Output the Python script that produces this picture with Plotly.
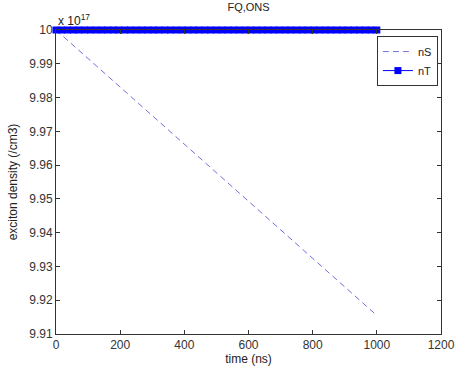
import plotly.graph_objects as go

# nS: linear decay (values in units of 1e17 /cm3)
t_nS = [0, 1000]
nS = [10.0, 9.9155]

# nT: constant at 1e18 (10 x 1e17), sampled densely
t_nT = [0, 18, 36, 54, 71, 89, 107, 125, 143, 161, 179, 196, 214, 232, 250,
        268, 286, 304, 321, 339, 357, 375, 393, 411, 429, 446, 464, 482, 500,
        518, 536, 554, 571, 589, 607, 625, 643, 661, 679, 696, 714, 732, 750,
        768, 786, 804, 821, 839, 857, 875, 893, 911, 929, 946, 964, 982, 1000]
nT = [10.0] * len(t_nT)

y_ticks = [9.91, 9.92, 9.93, 9.94, 9.95, 9.96, 9.97, 9.98, 9.99, 10.0]
y_ticktext = ["9.91", "9.92", "9.93", "9.94", "9.95", "9.96", "9.97", "9.98", "9.99", "10"]
x_ticks = [0, 200, 400, 600, 800, 1000, 1200]

font = "Liberation Sans, Arial, sans-serif"

fig = go.Figure()
fig.add_trace(go.Scatter(x=t_nS, y=nS, mode="lines", name="nS",
                         line=dict(color="#7070dd", width=1, dash="6px,4px")))
fig.add_trace(go.Scatter(x=t_nT, y=nT, mode="lines+markers", name="nT",
                         line=dict(color="#0000ff", width=1),
                         marker=dict(symbol="square", size=7, color="#0000ff",
                                     line=dict(width=0)),
                         cliponaxis=False))

axis_common = dict(showline=True, linecolor="#333333", linewidth=1, mirror="ticks",
                   ticks="inside", ticklen=4, tickcolor="#333333", showgrid=False,
                   zeroline=False, automargin=False,
                   tickfont=dict(family=font, size=12, color="#333333"))

fig.update_layout(
    width=456, height=366,
    margin=dict(l=56, r=15, t=30, b=32),
    paper_bgcolor="white", plot_bgcolor="white",
    title=dict(text="FQ,ONS", x=0.5, xref="paper", y=0.99, yanchor="top",
               automargin=False,
               font=dict(family=font, size=11, color="#222222")),
    xaxis=dict(range=[0, 1200], tickvals=x_ticks, **axis_common,
               title=dict(text="time (ns)", standoff=2,
                          font=dict(family=font, size=12, color="#222222"))),
    yaxis=dict(range=[9.91, 10.0], tickvals=y_ticks, ticktext=y_ticktext, **axis_common,
               title=dict(text="exciton density (/cm3)", standoff=9,
                          font=dict(family=font, size=12, color="#222222"))),
    legend=dict(x=0.992, y=0.98, xanchor="right", yanchor="top",
                bgcolor="white", bordercolor="#333333", borderwidth=1,
                font=dict(family=font, size=11, color="#222222"),
                tracegroupgap=0),
    showlegend=True,
)

fig.add_annotation(text="x 10<sup>17</sup>", xref="paper", yref="paper",
                   x=0, y=1.0, xanchor="left", yanchor="bottom", showarrow=False,
                   yshift=0, font=dict(family=font, size=12, color="#222222"))

fig.write_html("out.html")
